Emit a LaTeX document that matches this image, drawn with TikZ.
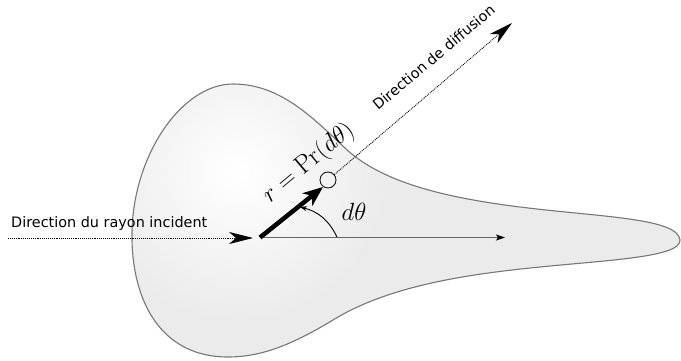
\documentclass[tikz,border=0pt]{standalone}
\usepackage{fontspec}
\newfontfamily\dv{DejaVu Sans}
\usetikzlibrary{arrows.meta}
\definecolor{bodyfill}{HTML}{EBEBEB}
\definecolor{bodyline}{HTML}{777777}
\tikzset{
  bodyline/.style={draw=bodyline, line width=1.1pt},
  dotline/.style={densely dotted, line width=0.9pt},
  bigtip/.style={-{Stealth[length=24pt,width=12pt,inset=7pt]}},
  sanslabel/.style={font=\dv\fontsize{14.4}{16}\selectfont, inner sep=0pt},
  mathlabel/.style={font=\fontsize{26}{30}\selectfont, inner sep=0pt},
}
\newcommand\bodypath{(132,240) .. controls (130,160) and (180,84) .. (233,84)
  .. controls (280,84) and (312,117) .. (345,148)
  .. controls (380,181) and (440,197) .. (520,207)
  .. controls (600,217) and (678,218) .. (680,240)
  .. controls (681,257) and (610,260) .. (540,267)
  .. controls (470,274) and (390,285) .. (333,320)
  .. controls (290,346) and (260,357) .. (228,357)
  .. controls (160,357) and (133,300) .. (132,240) -- cycle}
\begin{document}
\begin{tikzpicture}[x=1pt,y=-1pt]
\useasboundingbox (0,0) rectangle (681,361);
% body
\fill[bodyfill] \bodypath;
\begin{scope}
\clip \bodypath;
\shade[inner color=white, outer color=bodyfill] (238,172) circle (150);
\end{scope}
\draw[bodyline] \bodypath;

% named points
\coordinate (O) at (260,237.5);
\coordinate (Istart) at (8,238);
\coordinate (Iend) at (253,238);
\coordinate (H) at (505,237.5);
\coordinate (Ttip) at (323,187);
\coordinate (Dtip) at (512,23);
\coordinate (A1) at (337,237);
\coordinate (A2) at (300,207);
\node[circle, draw, line width=0.8pt, minimum size=16pt, inner sep=0pt] (c) at (328,180) {};

% incident ray
\draw[dotline, bigtip] (Istart) -- (Iend);
\node[sanslabel, anchor=base west] (inc) at (11,227) {Direction du rayon incident};

% horizontal axis
\draw[black!60, line width=1.4pt, -{Stealth[length=9pt,width=6pt,inset=2pt,black]}] (O) -- (H);

% diffusion direction
\draw[dotline, bigtip] (c) -- (Dtip);
\node[sanslabel, anchor=base west, rotate=40] (dif) at (378,111) {Direction de diffusion};

% thick arrow
\draw[line width=4.5pt, -{Stealth[length=20pt,width=16pt,inset=6pt]}] (O) -- (Ttip);

% angle
\draw[line width=0.9pt, -{Stealth[length=7pt,width=5pt]}] (A1) to[bend right=25] (A2);
\node[mathlabel] (dth) at (354,212) {$d\theta$};
\node[mathlabel, anchor=base west, rotate=40] (rlab) at (270,204) {$r=\mathrm{Pr}(d\theta)$};
\end{tikzpicture}
\end{document}
